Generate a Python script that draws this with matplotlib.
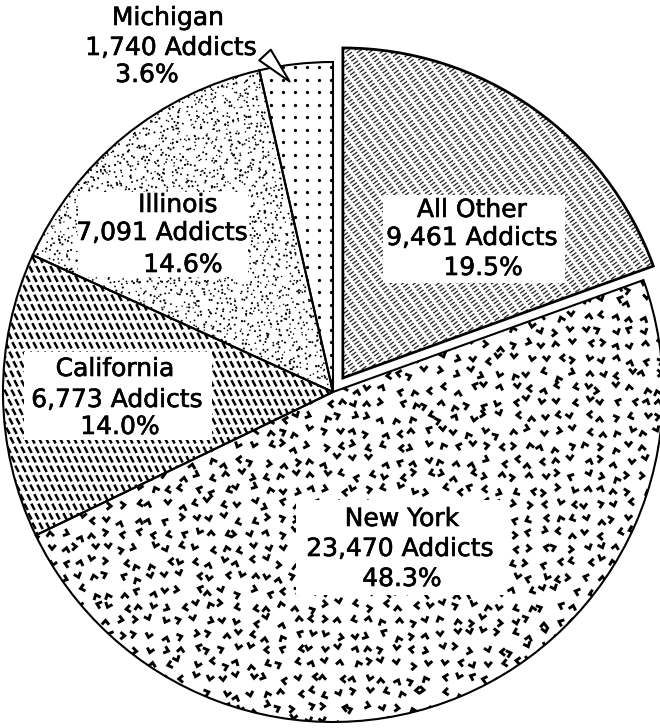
import numpy as np
import matplotlib.pyplot as plt
import matplotlib.patches as mpatches
import matplotlib.patheffects as pe
from matplotlib.collections import LineCollection

# addicts by state
regions = ["All Other", "New York", "California", "Illinois", "Michigan"]
addicts = [9461, 23470, 6773, 7091, 1740]
shares = [19.5, 48.3, 14.0, 14.6, 3.6]

W, H = 660, 728
CX, CY, R = 333, 392, 330   # pie centre / radius in pixels (origin top-left)


def px(x, y):
    # pixel position -> pie units
    return (x - CX) / R, (CY - y) / R


def hash01(i, seed):
    # cheap deterministic hash in [0, 1) for texture jitter
    return np.modf(np.abs(np.sin(i * 12.9898 + seed * 78.233)) * 43758.5453)[0]


def jitter_grid(ext, step, amount):
    gx, gy = np.meshgrid(np.arange(ext.x0, ext.x1 + step, step),
                         np.arange(ext.y0, ext.y1 + step, step))
    i = np.arange(gx.size, dtype=float)
    xs = gx.ravel() + (hash01(i, 1) - 0.5) * amount
    ys = gy.ravel() + (hash01(i, 2) - 0.5) * amount
    return xs, ys, i


fig = plt.figure(figsize=(W / 100, H / 100), dpi=100)
ax = fig.add_axes([0, 0, 1, 1])

wedges, _ = ax.pie(addicts, startangle=90, counterclock=False,
                   explode=[0.052, 0, 0, 0, 0],
                   wedgeprops=dict(facecolor="white", edgecolor="none", zorder=1))
ax.set_xlim(px(0, 0)[0], px(W, 0)[0])
ax.set_ylim(px(0, H)[1], px(0, 0)[1])
ax.set_aspect("equal")
ax.axis("off")

u = 1 / R  # one pixel in pie units

# All Other: fine broken diagonal hatching
w = wedges[0]
ext = w.get_path().get_extents()
d = np.array([np.cos(np.radians(36)), np.sin(np.radians(36))])
nrm = np.array([-d[1], d[0]])
c0 = np.array([ext.x0 + ext.width / 2, ext.y0 + ext.height / 2])
segs = [[c0 + nrm * k - d, c0 + nrm * k + d] for k in np.arange(-1.0, 1.0, 3.5 * u)]
lc = LineCollection(segs, colors="#262626", linewidths=0.95,
                    linestyles=[(0, (4.5, 2.4))], zorder=2)
ax.add_collection(lc)
lc.set_clip_path(w)

# New York: scattered chevrons
w = wedges[1]
xs, ys, idx = jitter_grid(w.get_path().get_extents(), 14.5 * u, 7 * u)
ang = np.radians(90 * np.floor(hash01(idx, 3) * 4) + (hash01(idx, 4) - 0.5) * 50)
arm = 5.6 * u
chev = []
for x, y, a in zip(xs, ys, ang):
    tip = np.array([x, y])
    left = tip - arm * np.array([np.cos(a - 0.7), np.sin(a - 0.7)])
    right = tip - arm * np.array([np.cos(a + 0.7), np.sin(a + 0.7)])
    chev.append([left, tip, right])
lc = LineCollection(chev, colors="black", linewidths=2.1, zorder=2,
                    capstyle="butt", joinstyle="miter")
ax.add_collection(lc)
lc.set_clip_path(w)

# California: short back-slash dashes
w = wedges[2]
ext = w.get_path().get_extents()
dash = 3.6 * u * np.array([np.cos(np.radians(-62)), np.sin(np.radians(-62))])
segs = []
for row, y in enumerate(np.arange(ext.y0, ext.y1, 9.5 * u)):
    shift = (row * 3.0 * u) % (7 * u)
    for x in np.arange(ext.x0 + shift, ext.x1, 7 * u):
        p = np.array([x, y])
        segs.append([p - dash, p + dash])
lc = LineCollection(segs, colors="black", linewidths=1.8, zorder=2)
ax.add_collection(lc)
lc.set_clip_path(w)

# Illinois: stipple
w = wedges[3]
xs, ys, idx = jitter_grid(w.get_path().get_extents(), 5.0 * u, 10 * u)
sizes = 0.9 + 1.8 * hash01(idx, 5)
sc = ax.scatter(xs, ys, s=sizes, c="black", linewidths=0, zorder=2)
sc.set_clip_path(w)

# Michigan: regular dots
w = wedges[4]
ext = w.get_path().get_extents()
gx, gy = np.meshgrid(np.arange(ext.x0, ext.x1, 12 * u),
                     np.arange(ext.y0, ext.y1, 12.5 * u))
sc = ax.scatter(gx.ravel(), gy.ravel(), s=5.5, c="black", linewidths=0, zorder=2)
sc.set_clip_path(w)

# outlines on top of the textures
for w in wedges:
    lw = 2.0 if w is wedges[0] else 1.5
    ax.add_patch(mpatches.Wedge(w.center, w.r, w.theta1, w.theta2, fill=False,
                                edgecolor="black", linewidth=lw, zorder=5))

# label text: three lines per slice, with a white box cut out of the texture
line_pos = {
    "All Other": [(472, 210), (472, 238), (483, 268)],
    "New York": [(402, 519), (400, 549), (402, 579)],
    "California": [(115, 369), (117, 400), (120, 427)],
    "Illinois": [(178, 205), (162, 233), (183, 265)],
    "Michigan": [(168, 18), (171, 48), (147, 75)],
}
boxes = {
    "All Other": (383, 195, 565, 283),
    "New York": (296, 500, 507, 595),
    "California": (24, 352, 212, 440),
    "Illinois": (78, 192, 248, 277),
}
bolder = [pe.withStroke(linewidth=0.45, foreground="black")]

for name, n_add, pct in zip(regions, addicts, shares):
    if name in boxes:
        x0, y0, x1, y1 = boxes[name]
        bx, by = px(x0, y1)
        ax.add_patch(mpatches.Rectangle((bx, by), (x1 - x0) * u, (y1 - y0) * u,
                                        facecolor="white", edgecolor="none", zorder=3))
    lines = [name, f"{n_add:,} Addicts", f"{pct:.1f}%"]
    for txt, (x, y) in zip(lines, line_pos[name]):
        ax.text(*px(x, y), txt, ha="center", va="center", fontsize=18,
                family="DejaVu Sans", color="black", zorder=6, path_effects=bolder)

# pointer from the Michigan label into its thin slice
w = wedges[4]
tm = np.radians((w.theta1 + w.theta2) / 2 + 1.5)
tip = (0.95 * np.cos(tm), 0.95 * np.sin(tm))
ax.annotate("", xy=tip, xytext=px(265, 55), zorder=7,
            arrowprops=dict(arrowstyle="wedge,tail_width=0.75,shrink_factor=0.5",
                            mutation_scale=15, fc="white", ec="black", lw=1.5,
                            shrinkA=0, shrinkB=0))

fig.savefig("out.png", dpi=100)
